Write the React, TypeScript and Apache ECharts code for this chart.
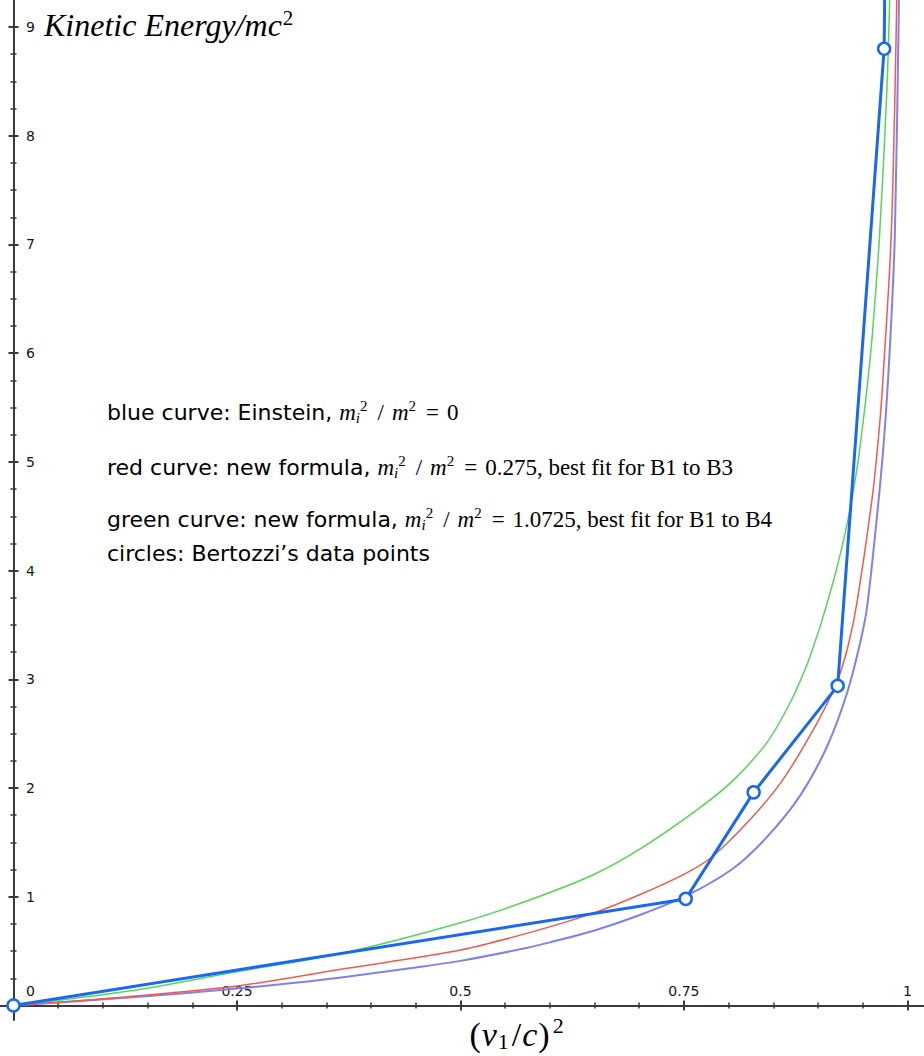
import React, { useEffect, useRef } from 'react';
import * as echarts from 'echarts';

// ---------- data ----------
const xMajorTicks = [0, 0.25, 0.5, 0.75, 1];
const xMinorTicks = [0.05, 0.1, 0.15, 0.2, 0.3, 0.35, 0.4, 0.45, 0.55, 0.6, 0.65, 0.7, 0.8, 0.85, 0.9, 0.95];
const yMajorTicks = [0, 1, 2, 3, 4, 5, 6, 7, 8, 9];
const yLabelValues = [1, 2, 3, 4, 5, 6, 7, 8, 9];
const yMinorTicks = [
  0.25, 0.5, 0.75, 1.25, 1.5, 1.75, 2.25, 2.5, 2.75, 3.25, 3.5, 3.75, 4.25, 4.5, 4.75,
  5.25, 5.5, 5.75, 6.25, 6.5, 6.75, 7.25, 7.5, 7.75, 8.25, 8.5, 8.75,
];

// Einstein curve (light blue)
const einsteinX = [0, 0.125, 0.25, 0.35, 0.45, 0.5, 0.575, 0.6, 0.65, 0.7, 0.753, 0.805, 0.843, 0.88, 0.91, 0.932, 0.947, 0.955, 0.969, 0.976, 0.982, 0.986, 0.9905, 0.993];
const einsteinY = [0, 0.07, 0.155, 0.24, 0.35, 0.41, 0.53, 0.58, 0.69, 0.83, 1.01, 1.26, 1.55, 1.93, 2.38, 2.86, 3.33, 3.67, 4.75, 5.45, 6.3, 7.1, 9.19, 11.0];

// new formula, mi^2/m^2 = 0.275 (red)
const redX = [0, 0.1275, 0.25, 0.373, 0.5, 0.574, 0.648, 0.701, 0.752, 0.782, 0.824, 0.861, 0.899, 0.921, 0.9334, 0.9435, 0.9614, 0.969, 0.9726, 0.982, 0.988, 0.991];
const redY = [0, 0.08, 0.178, 0.341, 0.51, 0.663, 0.847, 1.02, 1.215, 1.37, 1.71, 2.08, 2.6, 2.97, 3.3, 3.7, 4.72, 5.35, 5.75, 7.1, 9.19, 11.0];

// new formula, mi^2/m^2 = 1.0725 (green)
const greenX = [0, 0.1275, 0.25, 0.373, 0.5, 0.574, 0.648, 0.701, 0.768, 0.805, 0.843, 0.8685, 0.8875, 0.8965, 0.9055, 0.92, 0.9323, 0.9435, 0.9502, 0.9558, 0.961, 0.969, 0.9766, 0.98, 0.9825];
const greenY = [0, 0.13, 0.31, 0.49, 0.76, 0.96, 1.2, 1.44, 1.82, 2.07, 2.42, 2.78, 3.13, 3.34, 3.57, 3.99, 4.42, 4.93, 5.35, 5.75, 6.19, 7.1, 8.33, 9.19, 10.3];

// Bertozzi's data points (circles)
const bertozziX = [0, 0.752, 0.828, 0.922, 0.974, 1.0];
const bertozziY = [0, 0.98, 1.96, 2.94, 8.8, 29.4];

// ---------- styling ----------
const X_MIN = -0.0151;
const X_MAX = 1.0186;
const Y_MIN = -0.134;
const Y_MAX = 9.249;
const AXIS_COLOR = '#3a3a3a';
const LABEL_COLOR = '#151515';
const SANS = '"DejaVu Sans", "Liberation Sans", sans-serif';
const SERIF = '"Liberation Serif", "Times New Roman", serif';

// Tick labels are laid out from the grid edge (not the zero line), so their margins are measured from it.
function makeXAxis(position: string, values: number[], length: number, main: boolean) {
  return {
    type: 'value',
    min: X_MIN,
    max: X_MAX,
    position,
    axisLine: { show: main, onZero: true, onZeroAxisIndex: 0, lineStyle: { color: AXIS_COLOR, width: 2 } },
    axisTick: { show: true, customValues: values, length, lineStyle: { color: AXIS_COLOR, width: length > 4 ? 2 : 1.5 } },
    minorTick: { show: false },
    splitLine: { show: false },
    axisLabel: main
      ? {
          show: true,
          inside: true,
          margin: 22,
          align: 'center',
          verticalAlign: 'bottom',
          customValues: xMajorTicks,
          fontFamily: SANS,
          fontSize: 14,
          color: LABEL_COLOR,
          formatter: (v: number) => (v === 0 ? '{z|0}' : '{n|' + String(v) + '}'),
          rich: {
            z: { padding: [0, 0, 0, 34], fontFamily: SANS, fontSize: 14, color: LABEL_COLOR },
            n: { fontFamily: SANS, fontSize: 14, color: LABEL_COLOR },
          },
        }
      : { show: false },
  };
}

function makeYAxis(position: string, values: number[], length: number, main: boolean) {
  return {
    type: 'value',
    min: Y_MIN,
    max: Y_MAX,
    position,
    axisLine: { show: main, onZero: true, onZeroAxisIndex: 0, lineStyle: { color: AXIS_COLOR, width: 2 } },
    axisTick: { show: true, customValues: values, length, lineStyle: { color: AXIS_COLOR, width: length > 4 ? 2 : 1.5 } },
    minorTick: { show: false },
    splitLine: { show: false },
    axisLabel: main
      ? {
          show: true,
          inside: true,
          margin: 26,
          align: 'left',
          verticalAlign: 'middle',
          customValues: yLabelValues,
          fontFamily: SANS,
          fontSize: 14,
          color: LABEL_COLOR,
        }
      : { show: false },
  };
}

function curve(name: string, xs: number[], ys: number[], color: string, width: number, z: number) {
  return {
    type: 'line',
    name,
    data: xs.map((x, i) => [x, ys[i]]),
    symbol: 'none',
    showSymbol: false,
    smooth: 0.3,
    clip: true,
    silent: true,
    lineStyle: { color, width },
    z,
  };
}

const txt = { fontFamily: SANS, fontSize: 22, color: '#111' };
const mth = { fontFamily: SERIF, fontStyle: 'italic', fontSize: 23, color: '#111' };
const srf = { fontFamily: SERIF, fontSize: 23, color: '#111' };
const opr = { fontFamily: SERIF, fontSize: 23, color: '#111', padding: [0, 8, 0, 8] };
const sub = { fontFamily: SERIF, fontStyle: 'italic', fontSize: 15, color: '#111', padding: [11, 0, 0, 0] };
const sup = { fontFamily: SERIF, fontSize: 15, color: '#111', padding: [0, 2, 12, 0] };
const annotationRich = { a: txt, m: mth, s: srf, o: opr, sub, sup };

const annotationLines = [
  '{a|blue curve: Einstein, }{m|m}{sub|i}{sup|2}{o|/}{m|m}{sup|2}{o|=}{s|0}',
  '{a|red curve: new formula, }{m|m}{sub|i}{sup|2}{o|/}{m|m}{sup|2}{o|=}{s|0.275, best fit for B1 to B3}',
  '{a|green curve: new formula, }{m|m}{sub|i}{sup|2}{o|/}{m|m}{sup|2}{o|=}{s|1.0725, best fit for B1 to B4}',
  '{a|circles: Bertozzi’s data points}',
];
const annotationY = [412, 467, 519, 553];

const option = {
  animation: false,
  backgroundColor: '#ffffff',
  grid: { left: 0, right: 0, top: 0, bottom: 36, containLabel: false, outerBoundsMode: 'none' },
  xAxis: [
    makeXAxis('bottom', xMajorTicks, 5, true),
    makeXAxis('top', xMajorTicks, 5, false),
    makeXAxis('bottom', xMinorTicks, 3, false),
    makeXAxis('top', xMinorTicks, 3, false),
  ],
  yAxis: [
    makeYAxis('left', yMajorTicks, 5, true),
    makeYAxis('right', yMajorTicks, 5, false),
    makeYAxis('left', yMinorTicks, 3, false),
    makeYAxis('right', yMinorTicks, 3, false),
  ],
  series: [
    curve('Einstein', einsteinX, einsteinY, '#7f80f4', 2, 2),
    curve('new formula 0.275', redX, redY, '#f3594d', 1.5, 3),
    curve('new formula 1.0725', greenX, greenY, '#55d657', 1.5, 3),
    {
      type: 'line',
      name: 'Bertozzi',
      data: bertozziX.map((x, i) => ({
        value: [x, bertozziY[i]],
        symbol: i === bertozziX.length - 1 ? 'none' : 'circle',
      })),
      symbol: 'circle',
      symbolSize: 12,
      showAllSymbol: true,
      clip: true,
      silent: true,
      itemStyle: { color: '#ffffff', borderColor: '#1868f2', borderWidth: 2.5 },
      lineStyle: { color: '#1868f2', width: 3 },
      z: 5,
    },
  ],
  graphic: [
    {
      type: 'text',
      x: 44,
      y: 25,
      style: {
        text: '{t|Kinetic Energy/mc}{p|2}',
        verticalAlign: 'middle',
        align: 'left',
        rich: {
          t: { fontFamily: SERIF, fontStyle: 'italic', fontSize: 32, color: '#222' },
          p: { fontFamily: SERIF, fontSize: 21, color: '#222', padding: [0, 0, 15, 1] },
        },
      },
    },
    {
      type: 'text',
      x: 516,
      y: 1034,
      style: {
        text: '{p|(}{i|v}{b|1}{p|/}{i|c}{p|)}{e|2}',
        verticalAlign: 'middle',
        align: 'center',
        rich: {
          p: { fontFamily: SERIF, fontSize: 34, color: '#222', padding: [0, 1, 0, 1] },
          i: { fontFamily: SERIF, fontStyle: 'italic', fontSize: 34, color: '#222' },
          b: { fontFamily: SERIF, fontSize: 22, color: '#222', padding: [14, 2, 0, 1] },
          e: { fontFamily: SERIF, fontSize: 22, color: '#222', padding: [0, 0, 18, 2] },
        },
      },
    },
    ...annotationLines.map((t, i) => ({
      type: 'text',
      x: 107,
      y: annotationY[i],
      style: { text: t, verticalAlign: 'middle', align: 'left', rich: annotationRich },
    })),
  ],
};

export default function App() {
  const ref = useRef<HTMLDivElement>(null);
  useEffect(() => {
    if (!ref.current) return;
    const chart = echarts.init(ref.current, null, { renderer: 'svg' });
    chart.setOption(option as any);
    return () => chart.dispose();
  }, []);
  return (
    <div
      ref={ref}
      style={{ position: 'absolute', left: 0, top: 0, width: 924, height: 1056, background: '#fff' }}
    />
  );
}
